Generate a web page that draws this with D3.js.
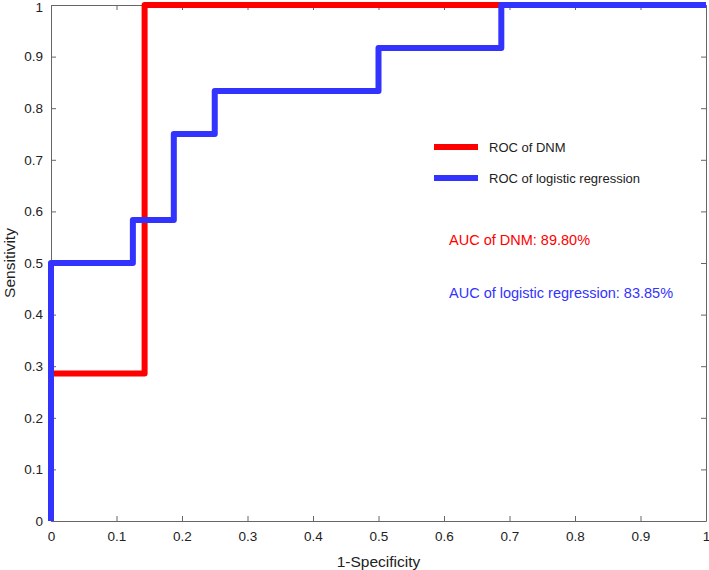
<!DOCTYPE html>
<html lang="en">
<head>
<meta charset="utf-8">
<title>ROC curves</title>
<script src="https://cdnjs.cloudflare.com/ajax/libs/d3/7.8.5/d3.min.js"></script>
<style>
  body { margin: 0; background: #fff; }
  text { font-family: "Liberation Sans", Arial, sans-serif; }
</style>
</head>
<body>
<div id="viz"></div>
<script>
// ROC points
const dnmFpr = [0, 0, 0.1429, 0.1429, 1];
const dnmTpr = [0, 0.2857, 0.2857, 1, 1];
const lrFpr = [0, 0, 0.125, 0.125, 0.1875, 0.1875, 0.25, 0.25, 0.5, 0.5, 0.6875, 0.6875, 1];
const lrTpr = [0, 0.5, 0.5, 0.5833, 0.5833, 0.75, 0.75, 0.8333, 0.8333, 0.9167, 0.9167, 1, 1];
const ticks = [0, 0.1, 0.2, 0.3, 0.4, 0.5, 0.6, 0.7, 0.8, 0.9, 1];
const legendLabels = ["ROC of DNM", "ROC of logistic regression"];
const aucLabels = ["AUC of DNM: 89.80%", "AUC of logistic regression: 83.85%"];

const width = 709, height = 570;
const plotLeft = 51, plotRight = 706, plotTop = 5, plotBottom = 521;
const red = "#ff0000", blue = "#3333ff", axisColor = "#666";

const svg = d3.select("#viz").append("svg")
  .attr("width", width)
  .attr("height", height);

const x = d3.scaleLinear().domain([0, 1]).range([plotLeft, plotRight]);
const y = d3.scaleLinear().domain([0, 1]).range([plotBottom, plotTop]);

// axes, ticks inside like matlab
function styleAxis(g) {
  g.selectAll("path").attr("stroke", axisColor);
  g.selectAll("line").attr("stroke", axisColor);
  g.selectAll("text").attr("fill", "#222").attr("font-size", 13.5)
    .attr("font-family", "Liberation Sans, Arial, sans-serif");
}
svg.append("g").attr("transform", `translate(0,${plotBottom})`)
  .call(d3.axisBottom(x).tickValues(ticks).tickFormat(d3.format("")).tickSizeInner(-5).tickSizeOuter(0).tickPadding(10))
  .call(styleAxis);
svg.append("g").attr("transform", `translate(${plotLeft},0)`)
  .call(d3.axisLeft(y).tickValues(ticks).tickFormat(d3.format("")).tickSizeInner(-5).tickSizeOuter(0).tickPadding(8))
  .call(styleAxis)
  .selectAll("text").filter(d => d === 1).attr("dy", "0.45em");
svg.append("g").attr("transform", `translate(0,${plotTop})`)
  .call(d3.axisTop(x).tickValues(ticks).tickFormat("").tickSizeInner(-5).tickSizeOuter(0))
  .call(styleAxis);
svg.append("g").attr("transform", `translate(${plotRight},0)`)
  .call(d3.axisRight(y).tickValues(ticks).tickFormat("").tickSizeInner(-5).tickSizeOuter(0))
  .call(styleAxis);

// curves
const line = d3.line().x(d => x(d[0])).y(d => y(d[1]));
const dnm = dnmFpr.map((v, i) => [v, dnmTpr[i]]);
const lr = lrFpr.map((v, i) => [v, lrTpr[i]]);

svg.append("path").datum(dnm)
  .attr("d", line).attr("fill", "none")
  .attr("stroke", red).attr("stroke-width", 6).attr("stroke-linejoin", "round");
svg.append("path").datum(lr)
  .attr("d", line).attr("fill", "none")
  .attr("stroke", blue).attr("stroke-width", 6).attr("stroke-linejoin", "round");

// legend
const legend = svg.append("g");
[red, blue].forEach((c, i) => {
  const ly = 147 + i * 31;
  legend.append("line")
    .attr("x1", 434).attr("x2", 478).attr("y1", ly).attr("y2", ly)
    .attr("stroke", c).attr("stroke-width", 6);
  legend.append("text")
    .attr("x", 489).attr("y", ly).attr("dy", "0.35em")
    .attr("font-size", 13).attr("fill", "#222")
    .text(legendLabels[i]);
});

// AUC notes
[red, blue].forEach((c, i) => {
  svg.append("text")
    .attr("x", 449).attr("y", 240 + i * 53).attr("dy", "0.35em")
    .attr("font-size", 14.5).attr("fill", c)
    .text(aucLabels[i]);
});

// axis titles
svg.append("text")
  .attr("x", (plotLeft + plotRight) / 2).attr("y", 567)
  .attr("text-anchor", "middle").attr("font-size", 15.5).attr("fill", "#222")
  .text("1-Specificity");
svg.append("text")
  .attr("transform", `translate(15,${(plotTop + plotBottom) / 2}) rotate(-90)`)
  .attr("text-anchor", "middle").attr("font-size", 15.5).attr("fill", "#222")
  .text("Sensitivity");
</script>
</body>
</html>
